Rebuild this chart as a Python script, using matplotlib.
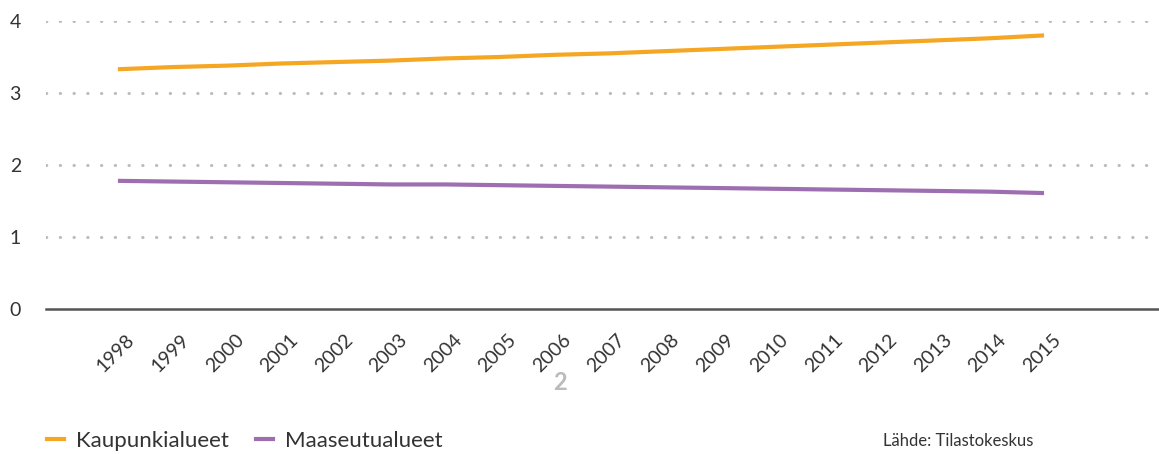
import matplotlib.pyplot as plt
import matplotlib.transforms as mtransforms
from matplotlib.lines import Line2D

years = [str(y) for y in range(1998, 2016)]
kaupunki = [3.33, 3.36, 3.38, 3.41, 3.43, 3.45, 3.48, 3.50, 3.53,
            3.55, 3.58, 3.61, 3.64, 3.67, 3.70, 3.73, 3.76, 3.80]
maaseutu = [1.78, 1.77, 1.76, 1.75, 1.74, 1.73, 1.73, 1.72, 1.71,
            1.70, 1.69, 1.68, 1.67, 1.66, 1.65, 1.64, 1.63, 1.61]

plt.rcParams['font.family'] = ['Lato', 'DejaVu Sans']

orange = '#F5A623'
purple = '#9E6FB0'

fig = plt.figure(figsize=(11.59, 4.54), dpi=100)
ax = fig.add_axes([46/1159, 145/454, 1113/1159, 288/454])

x = list(range(len(years)))
ax.plot(x, kaupunki, color=orange, lw=3, solid_capstyle='butt')
ax.plot(x, maaseutu, color=purple, lw=3, solid_capstyle='butt')

ax.set_xlim(-1.32, 19.11)
ax.set_ylim(0, 4)
ax.set_yticks([0, 1, 2, 3, 4])
for v in [1, 2, 3, 4]:
    ax.axhline(v, color='#BBBBBB', lw=2.2, ls=(0, (0.1, 4.4)), dash_capstyle='round', zorder=0)

for s in ['top', 'right', 'left']:
    ax.spines[s].set_visible(False)
ax.spines['bottom'].set_color('#555555')
ax.spines['bottom'].set_linewidth(1.8)

ax.set_xticks(x)
ax.set_xticklabels(years, rotation=45, ha='right', rotation_mode='anchor', fontsize=14, color='#333333')
ax.tick_params(axis='x', length=0, pad=16)
ax.tick_params(axis='y', length=0, pad=18, labelsize=14, labelcolor='#333333')
shift = mtransforms.ScaledTranslation(8/100, 0, fig.dpi_scale_trans)
for lab in ax.get_xticklabels():
    lab.set_transform(lab.get_transform() + shift)

fig.text(560/1159, 1 - 383/454, '2', fontsize=17, fontweight='bold', color='#BBBBBB', ha='center', va='center')

handles = [Line2D([], [], color=orange, lw=3), Line2D([], [], color=purple, lw=3)]
fig.legend(handles, ['Kaupunkialueet', 'Maaseutualueet'], loc='center left',
           bbox_to_anchor=(47/1159, 1 - 441/454), ncol=2, frameon=False, fontsize=16,
           borderpad=0, borderaxespad=0,
           handlelength=0.76, handletextpad=0.55, columnspacing=1.2, labelcolor='#333333')
fig.text(883/1159, 1 - 441/454, 'Lähde: Tilastokeskus', fontsize=12, color='#333333', ha='left', va='center')

fig.savefig('out.png', dpi=100)
